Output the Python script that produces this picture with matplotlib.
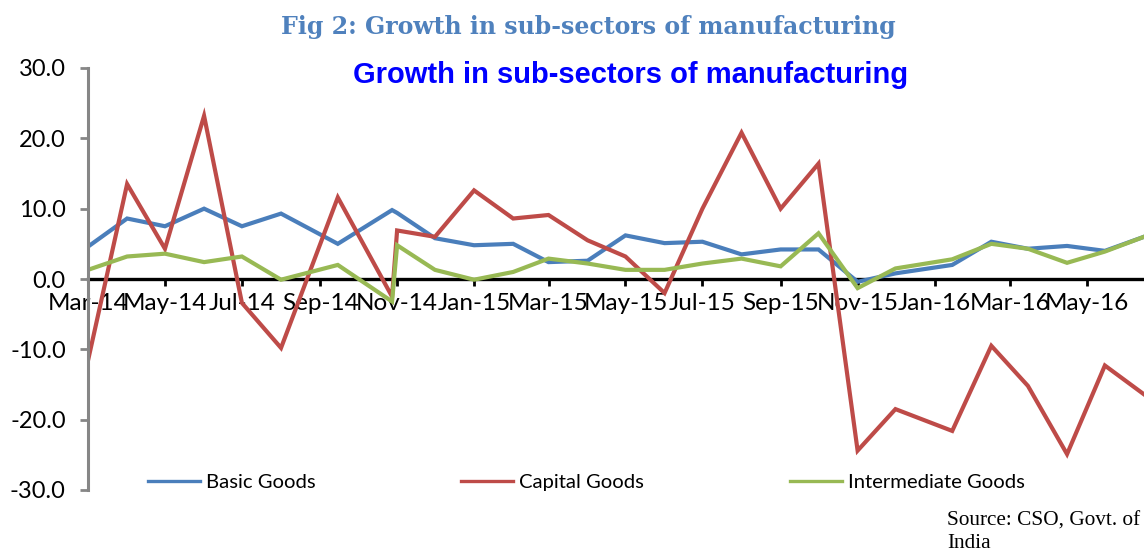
import matplotlib
matplotlib.use('Agg')
import matplotlib.pyplot as plt
import matplotlib.dates as mdates
import numpy as np

# dates as they sit on the chart's date axis
dates = ['2014-03-01', '2014-04-01', '2014-05-01', '2014-06-01', '2014-07-01',
         '2014-08-01', '2014-09-15', '2014-10-28', '2014-11-01', '2014-12-01',
         '2015-01-01', '2015-02-01', '2015-03-01', '2015-04-01', '2015-05-01',
         '2015-06-01', '2015-07-01', '2015-08-01', '2015-09-01', '2015-10-01',
         '2015-11-01', '2015-12-01', '2016-01-15', '2016-02-15', '2016-03-15',
         '2016-04-15', '2016-05-15', '2016-06-15']

basic_goods = [4.6, 8.6, 7.5, 10.0, 7.5, 9.3, 5.0, 9.8, 9.4, 5.8, 4.8, 5.0, 2.4, 2.6,
               6.2, 5.1, 5.3, 3.5, 4.2, 4.2, -0.4, 0.8, 2.0, 5.3, 4.3, 4.7, 4.0, 6.0]
capital_goods = [-11.6, 13.5, 4.3, 23.2, -3.4, -9.8, 11.6, -2.5, 6.9, 6.0, 12.6, 8.6, 9.1, 5.5,
                 3.2, -2.0, 10.0, 20.8, 10.0, 16.4, -24.4, -18.5, -21.6, -9.5, -15.2, -24.9,
                 -12.3, -16.4]
intermediate_goods = [1.3, 3.2, 3.6, 2.4, 3.2, -0.1, 2.0, -3.2, 4.8, 1.3, -0.1, 1.0, 2.9, 2.2,
                      1.3, 1.3, 2.2, 2.9, 1.8, 6.5, -1.3, 1.5, 2.8, 5.0, 4.3, 2.3, 3.9, 6.0]

series_names = ['Basic Goods', 'Capital Goods', 'Intermediate Goods']
colors = ['#4A7EBB', '#BE4B48', '#98B954']

plt.rcParams['axes.unicode_minus'] = False

x = np.array(dates, dtype='datetime64[D]')

fig = plt.figure(figsize=(11.44, 5.52), dpi=100)
ax = fig.add_axes([88 / 1144, 1 - 490 / 552, 1 - 88 / 1144, 422 / 552])

for vals, name, c in zip([basic_goods, capital_goods, intermediate_goods], series_names, colors):
    ax.plot(x, vals, color=c, lw=3.0, label=name, solid_joinstyle='miter')

ax.set_ylim(-30, 30)
ax.set_yticks(np.arange(-30, 31, 10))
ax.yaxis.set_major_formatter(matplotlib.ticker.FormatStrFormatter('%.1f'))
ax.set_xlim(np.datetime64('2014-03-01'), np.datetime64('2016-06-15'))
ax.xaxis.set_major_locator(mdates.MonthLocator(bymonth=[1, 3, 5, 7, 9, 11]))
ax.xaxis.set_major_formatter(mdates.DateFormatter('%b-%y'))

for s in ['top', 'right']:
    ax.spines[s].set_visible(False)
ax.spines['left'].set_color('#868686')
ax.spines['left'].set_linewidth(2.2)
ax.spines['bottom'].set_position(('data', 0))
ax.spines['bottom'].set_color('black')
ax.spines['bottom'].set_linewidth(2.4)
ax.spines['bottom'].set_zorder(1)

ax.tick_params(axis='y', direction='out', length=6, width=2, color='#868686',
               labelsize=17, pad=10)
ax.tick_params(axis='x', direction='out', length=5, width=2, color='black',
               labelsize=17.5, pad=5)
for lbl in ax.get_xticklabels() + ax.get_yticklabels():
    lbl.set_fontfamily('Lato')

leg = ax.legend(loc='center left', bbox_to_anchor=(148 / 1144, 1 - 482 / 552),
                bbox_transform=fig.transFigure, ncol=3, frameon=False,
                prop={'family': 'Lato', 'size': 14.6}, handlelength=2.55,
                handletextpad=0.3, columnspacing=7.2, borderpad=0, borderaxespad=0)
for line in leg.get_lines():
    line.set_linewidth(2.4)

fig.text(588 / 1144, 1 - 27 / 552, 'Fig 2: Growth in sub-sectors of manufacturing',
         ha='center', va='center', color='#4F81BD', fontsize=17, fontweight='bold',
         family='DejaVu Serif')
fig.text(631 / 1144, 1 - 75 / 552, 'Growth in sub-sectors of manufacturing',
         ha='center', va='center', color='#0000FF', fontsize=21, fontweight='bold',
         family='Liberation Sans')
fig.text(947 / 1144, 1 - 521 / 552, 'Source: CSO, Govt. of', ha='left', va='center',
         fontsize=15.3, family='Liberation Serif')
fig.text(947 / 1144, 1 - 543 / 552, 'India', ha='left', va='center',
         fontsize=15.3, family='Liberation Serif')

fig.savefig('out.png', dpi=100)
